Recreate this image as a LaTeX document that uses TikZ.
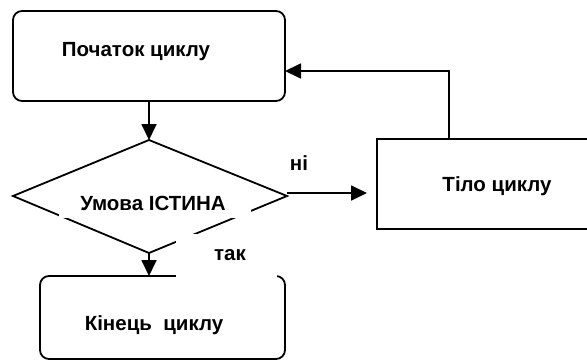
\documentclass[tikz,border=0pt]{standalone}
\usepackage{fontspec}
\setmainfont{Liberation Sans}
\usetikzlibrary{arrows.meta}
\begin{document}
\begin{tikzpicture}[x=1pt,y=-1pt,
  line/.style={line width=1.8pt},
  arr/.style={line width=1.8pt,-{Triangle[length=16pt,width=15pt]}},
  txt/.style={font=\fontsize{20.5}{24}\selectfont\bfseries, inner sep=0pt},
  cover/.style={fill=white, inner sep=0pt}]
\useasboundingbox (0,0) rectangle (587,364);
\begin{scope}
\clip (0,0) rectangle (587,364);
% shapes
\draw[line, rounded corners=9pt] (13,11) rectangle (285,101);
\coordinate (topbot) at (149,101);
\coordinate (topright) at (285,71);
\draw[line] (149,140) -- (287,196) -- (149,253) -- (13,196) -- cycle;
\coordinate (dtop) at (149,140);
\coordinate (dbot) at (149,253);
\coordinate (dright) at (287,193);
\draw[line] (377,139) rectangle (620,229);
\coordinate (tiloin) at (367,193);
\coordinate (tilotop) at (449,139);
\draw[line, rounded corners=9pt] (40,276) rectangle (285,359);
\coordinate (kintop) at (149,276);
% connectors
\draw[arr] (topbot) -- (dtop);
\draw[arr] (dright) -- (tiloin);
\draw[arr] (tilotop) |- (topright);
\draw[arr] (dbot) -- (kintop);
% cover boxes (white label backgrounds as in the original)
\node[cover, minimum width=192pt, minimum height=32pt] (cu) at (155,202) {};
\node[cover, minimum width=101pt, minimum height=44pt] (ct) at (226.5,256) {};
% texts
\node[txt] (t1) at (136,52) {Початок циклу};
\node[txt] (t2) at (153,203) {Умова ІСТИНА};
\node[txt] (t3) at (299,163) {ні};
\node[txt] (t4) at (497,186) {Тіло циклу};
\node[txt] (t5) at (230,255) {так};
\node[txt] (t6) at (154,325) {Кінець\ \ циклу};
\end{scope}
\end{tikzpicture}
\end{document}
